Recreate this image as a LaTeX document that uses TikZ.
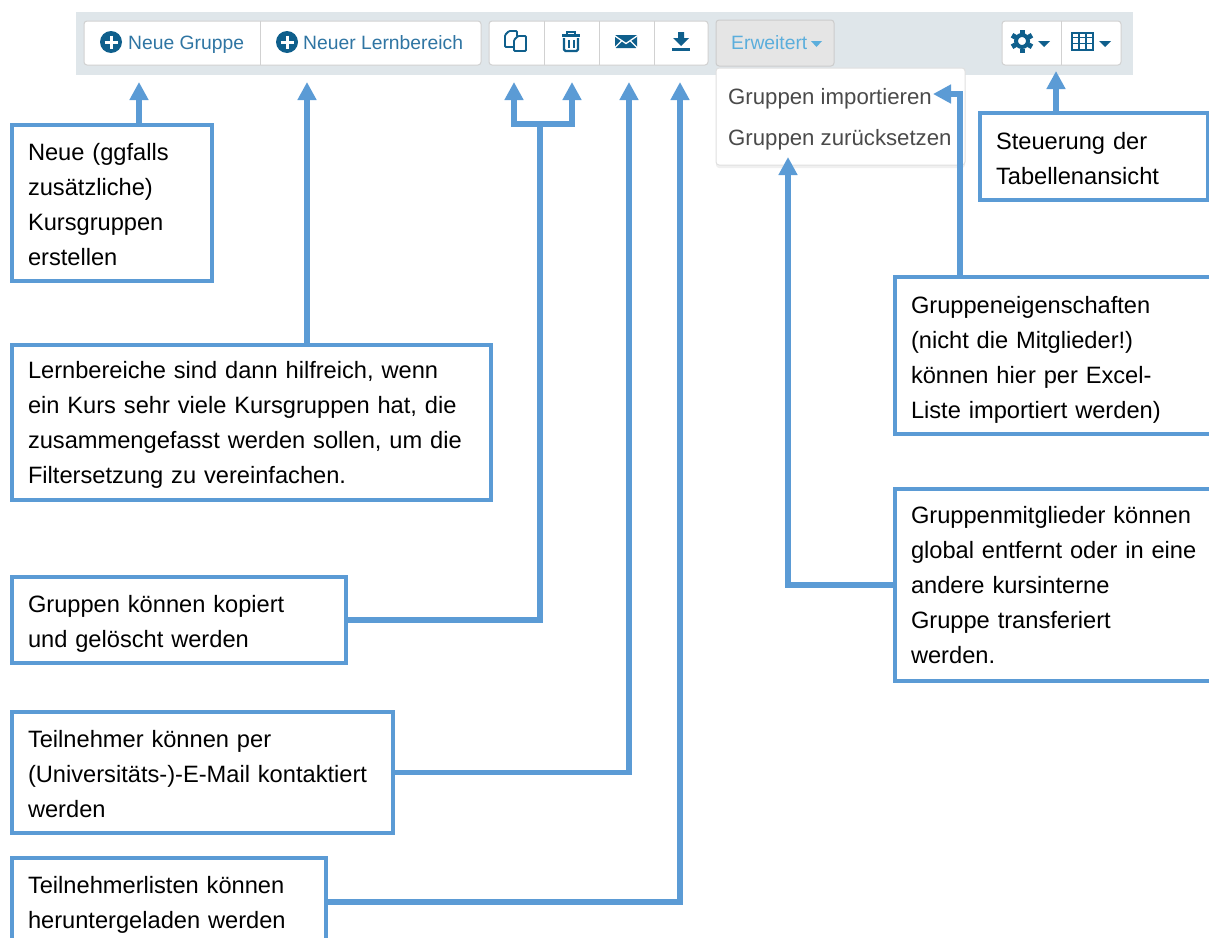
\documentclass[tikz,border=0pt]{standalone}
\usepackage{fontspec}
\setmainfont{Liberation Sans}
\usepackage{tikz}
\usetikzlibrary{calc,positioning,arrows.meta,shadows}
\definecolor{CalloutBlue}{HTML}{5B9BD5}
\definecolor{BarGrey}{HTML}{DFE6EA}
\definecolor{IconBlue}{HTML}{0F5F8C}
\definecolor{LinkBlue}{HTML}{2F75A3}
\definecolor{MoreBlue}{HTML}{5BAEDC}
\definecolor{MenuGrey}{HTML}{4A4A4A}
\tikzset{
  callout/.style={draw=CalloutBlue, line width=4pt, fill=white, outer sep=0pt, anchor=north west, align=left, inner sep=0pt, font=\fontsize{23.65}{35}\selectfont, text=black},
  textdrop/.style={execute at begin node={\rule{0pt}{\dimexpr 17.5pt+2\dimexpr #1\relax\relax}}},
  link/.style={draw=CalloutBlue, line width=5.5pt, -{Triangle[length=18pt,width=18pt]}},
  btngroup/.style={draw=black!18, line width=1pt, fill=white, rounded corners=3pt, outer sep=0pt, anchor=north west, minimum height=44pt},
  btnlabel/.style={text=LinkBlue, font=\fontsize{19.3}{20}\selectfont, inner sep=0pt, anchor=base west},
  menulabel/.style={text=MenuGrey, font=\fontsize{22.2}{24}\selectfont, inner sep=0pt, anchor=base west},
  divider/.style={draw=black!18, line width=1pt},
  caret/.style={fill=IconBlue, draw=none}
}
\begin{document}
\begin{tikzpicture}[x=1pt,y=-1pt]
        \useasboundingbox (0,0) rectangle (1209,937);
        \clip (0,0) rectangle (1209,937);
        % Werkzeugleiste
        \fill[BarGrey] (76,12) rectangle (1133,75);
        \node[btngroup, minimum width=397pt] (grpadd) at (84,21) {};
        \node[btngroup, minimum width=219pt, right=8pt of grpadd.north east, anchor=north west] (grptools) {};
        \node[btngroup, minimum width=118pt, minimum height=46pt, fill=black!10, draw=black!20] (btnmore) at (716,20) {};
        \node[btngroup, minimum width=119pt] (grpview) at (1002,21) {};
        \draw[divider] (260,21) -- (260,65);
        \draw[divider] (544,21) -- (544,65);
        \draw[divider] (599,21) -- (599,65);
        \draw[divider] (654,21) -- (654,65);
        \draw[divider] (1061,21) -- (1061,65);
        \node[btnlabel] (lblgroup) at (128,49) {Neue Gruppe};
        \node[btnlabel] (lbllern) at (303,49) {Neuer Lernbereich};
        \node[btnlabel, text=MoreBlue] (lblmore) at (731,49) {Erweitert};
        % Plus-Symbole
        \foreach \x in {111,287} {
          \fill[IconBlue] (\x,42) circle (11pt);
          \draw[white, line width=3pt] (\x-6.5,42) -- (\x+6.5,42) (\x,35.5) -- (\x,48.5);
        }
        % Kopieren
        \draw[IconBlue, line width=1.8pt, rounded corners=1pt] (517,36) -- (517,31) -- (509,31) -- (505,35) -- (505,47) -- (513,47);
        \draw[IconBlue, line width=1.8pt, fill=white, rounded corners=1pt] (518,36) -- (526,36) -- (526,51) -- (514,51) -- (514,40) -- cycle;
        % Papierkorb
        \draw[IconBlue, line width=2.4pt] (562,35.5) -- (580,35.5) (567,35) -- (567,32) -- (575,32) -- (575,35);
        \draw[IconBlue, line width=2.4pt, rounded corners=1.5pt] (564,38) -- (564,51) -- (578,51) -- (578,38);
        \draw[IconBlue, line width=2pt] (568.5,40) -- (568.5,48) (573.5,40) -- (573.5,48);
        % Mail
        \fill[IconBlue, rounded corners=1pt] (615,35) rectangle (637,48);
        \draw[white, line width=1.3pt] (615,36) -- (626,43.5) -- (637,36) (615,47.5) -- (622,40.5) (637,47.5) -- (630,40.5);
        % Herunterladen
        \fill[IconBlue] (678,32) -- (684,32) -- (684,38) -- (689,38) -- (681,46) -- (673,38) -- (678,38) -- cycle;
        \fill[IconBlue] (672,47.5) rectangle (690,50.5);
        % Pfeilchen
        \fill[MoreBlue] (811,41) -- (822,41) -- (816.5,47) -- cycle;
        \fill[caret] (1038,41) -- (1050,41) -- (1044,47) -- cycle;
        \fill[caret] (1099,41) -- (1111,41) -- (1105,47) -- cycle;
        % Zahnrad
        \draw[IconBlue, line width=4pt] (1022,41) circle (6pt);
        \foreach \a in {30,90,...,330} {
          \draw[IconBlue, line width=5pt] (1022,41) ++(\a:7.5pt) -- ++(\a:4pt);
        }
        % Tabelle
        \draw[IconBlue, line width=1.2pt] (1072,33) rectangle (1093,50);
        \draw[IconBlue, line width=1.2pt] (1072,37.5) -- (1093,37.5) (1072,43.5) -- (1093,43.5) (1079,33) -- (1079,50) (1086,33) -- (1086,50);
        % Menue
        \node[btngroup, minimum width=249pt, minimum height=97pt, draw=black!12, drop shadow={opacity=.12, shadow xshift=0pt, shadow yshift=-3pt}] (menu) at (716,68) {};
        \node[menulabel] (itemimport) at (728,104) {Gruppen importieren};
        \node[menulabel] (itemreset) at (728,145) {Gruppen zurücksetzen};
        % Linke Spalte
        \node[callout, textdrop=1pt, minimum width=200pt, minimum height=156pt, text width=168pt] (boxgroup) at (12,125) {Neue (ggfalls\\zusätzliche)\\Kursgruppen\\erstellen};
        \node[callout, textdrop=2pt, minimum width=479pt, minimum height=155pt, text width=447pt, below=64pt of boxgroup.south west, anchor=north west] (boxlern) {Lernbereiche sind dann hilfreich, wenn\\ein Kurs sehr viele Kursgruppen hat, die\\zusammengefasst werden sollen, um die\\Filtersetzung zu vereinfachen.};
        \node[callout, textdrop=4pt, minimum width=334pt, minimum height=86pt, text width=302pt, below=77pt of boxlern.south west, anchor=north west] (boxcopy) {Gruppen können kopiert\\und gelöscht werden};
        \node[callout, textdrop=1pt, minimum width=381pt, minimum height=121pt, text width=349pt, below=49pt of boxcopy.south west, anchor=north west] (boxmail) {Teilnehmer können per\\(Universitäts-)-E-Mail kontaktiert\\werden};
        \node[callout, textdrop=3pt, minimum width=314pt, minimum height=88pt, text width=282pt, below=25pt of boxmail.south west, anchor=north west] (boxdown) {Teilnehmerlisten können\\heruntergeladen werden};
        % Rechte Spalte
        \node[callout, textdrop=2pt, minimum width=228pt, minimum height=87pt, text width=196pt] (boxview) at (980,113) {Steuerung der\\Tabellenansicht};
        \node[callout, textdrop=4pt, minimum width=317pt, minimum height=157pt, text width=285pt] (boximport) at (895,277) {Gruppeneigenschaften\\(nicht die Mitglieder!)\\können hier per Excel-\\Liste importiert werden)};
        \node[callout, minimum width=317pt, minimum height=192pt, text width=285pt] (boxreset) at (895,489) {Gruppenmitglieder können\\\mbox{global entfernt oder in eine}\\andere kursinterne\\Gruppe transferiert\\werden.};
        % Pfeilspitzen
        \coordinate (tipgroup) at (139,82);
        \coordinate (tiplern) at (307,82);
        \coordinate (tipcopy) at (514,82);
        \coordinate (tipdel) at (572,82);
        \coordinate (tipmail) at (629,82);
        \coordinate (tipdown) at (680,82);
        \coordinate (tipreset) at (788,157);
        \coordinate (tipimport) at (933,94);
        \coordinate (tipview) at (1056,71);
        \coordinate (joincopy) at (540,124);
        % Verbindungen
        \draw[link] (boxgroup.north -| tipgroup) -- (tipgroup);
        \draw[link] (boxlern.north -| tiplern) -- (tiplern);
        \draw[link, {Triangle[length=18pt,width=18pt]}-{Triangle[length=18pt,width=18pt]}] (tipcopy) |- (joincopy) -| (tipdel);
        \draw[link, -, line join=miter] (boxcopy.east) -| (joincopy);
        \draw[link] (boxmail.east) -| (tipmail);
        \draw[link] (boxdown.east) -| (tipdown);
        \draw[link] (boxreset.west) -| (tipreset);
        \draw[link] (boximport.north -| 960,0) |- (tipimport);
        \draw[link] (boxview.north -| tipview) -- (tipview);
    \end{tikzpicture}
\end{document}
